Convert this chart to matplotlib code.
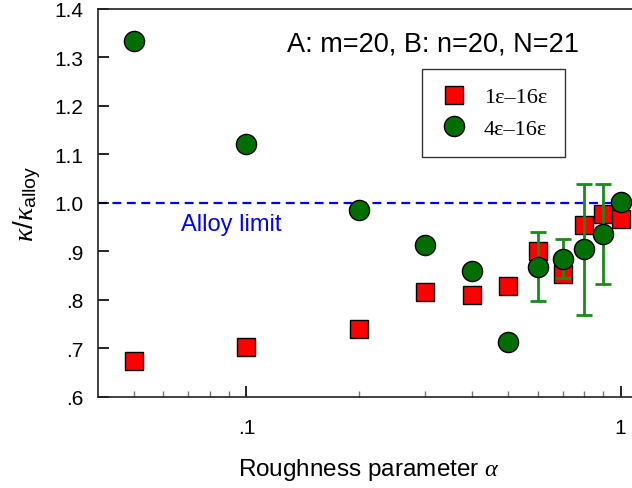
import matplotlib
matplotlib.use("Agg")
import matplotlib.pyplot as plt
from matplotlib.ticker import FixedLocator, FuncFormatter
import numpy as np

plt.rcParams['font.family'] = ['Liberation Sans', 'DejaVu Sans']
plt.rcParams['mathtext.fontset'] = 'custom'
plt.rcParams['mathtext.rm'] = 'Liberation Sans'
plt.rcParams['mathtext.it'] = 'Liberation Serif:italic'

# data
alpha_sq = [0.05, 0.1, 0.2, 0.3, 0.4, 0.5, 0.6, 0.7, 0.8, 0.9, 1.0]
k_sq = [0.674, 0.704, 0.740, 0.816, 0.811, 0.828, 0.902, 0.854, 0.955, 0.977, 0.967]

alpha_c = [0.05, 0.1, 0.2, 0.3, 0.4, 0.5, 0.6, 0.7, 0.8, 0.9, 1.0]
k_c = [1.334, 1.122, 0.986, 0.914, 0.860, 0.713, 0.869, 0.885, 0.905, 0.937, 1.003]
err_c = [0, 0, 0, 0, 0, 0, 0.072, 0.040, 0.135, 0.103, 0]

ytick_vals = [0.6, 0.7, 0.8, 0.9, 1.0, 1.1, 1.2, 1.3, 1.4]
ytick_labels = ['.6', '.7', '.8', '.9', '1.0', '1.1', '1.2', '1.3', '1.4']

fig = plt.figure(figsize=(6.32, 4.89), dpi=100)
ax = fig.add_axes([0.1544, 0.1861, 0.8582, 0.7935])

green = '#006e00'

# alloy limit
ax.plot([0.04, 1.0], [1.0, 1.0], color='#0000ff', ls=(0, (4, 2.5)), lw=1.6, zorder=1)
ax.text(0.246, 0.446, 'Alloy limit', color='#0000ff', fontsize=17,
        transform=ax.transAxes, ha='center', va='center')

ax.plot(alpha_sq, k_sq, 's', color='#ff0000', mec='black', mew=1.0, ms=12.5,
        label='1\u03b5\u201316\u03b5', zorder=3)

# error bars only where there is an error
a_e = [a for a, e in zip(alpha_c, err_c) if e > 0]
k_e = [k for k, e in zip(k_c, err_c) if e > 0]
e_e = [e for e in err_c if e > 0]
ax.errorbar(a_e, k_e, yerr=e_e, fmt='none', ecolor='#1a8a1a', elinewidth=2,
            capsize=6, capthick=2, zorder=4)
ax.plot(alpha_c, k_c, 'o', color=green, mec='black', mew=1.0, ms=14.5,
        label='4\u03b5\u201316\u03b5', zorder=5)

ax.set_xscale('log')
ax.set_xlim(0.04, 1.127)
ax.set_ylim(0.6, 1.4)

ax.xaxis.set_major_locator(FixedLocator([0.1, 1.0]))
ax.xaxis.set_major_formatter(FuncFormatter(lambda v, p: '.1' if v < 0.5 else '1'))
ax.xaxis.set_minor_locator(FixedLocator([0.05, 0.06, 0.07, 0.08, 0.09,
                                         0.2, 0.3, 0.4, 0.5, 0.6, 0.7, 0.8, 0.9]))
ax.xaxis.set_minor_formatter(FuncFormatter(lambda v, p: ''))
ax.set_yticks(ytick_vals)
ax.set_yticklabels(ytick_labels)

ax.tick_params(axis='both', which='major', direction='in', length=8, width=1.2,
               labelsize=15, pad=10)
ax.tick_params(axis='x', which='minor', direction='in', length=4, width=1,
               color='#777777')
ax.tick_params(axis='x', which='major', pad=15)

for s in ax.spines.values():
    s.set_linewidth(1.2)
    s.set_color('#222222')

ax.set_xlabel('Roughness parameter $\\alpha$', fontsize=17.5, labelpad=14)
ax.set_ylabel('$\\kappa/\\kappa_{\\rm alloy}$', fontsize=20, labelpad=8)

ax.text(0.618, 0.91, 'A: m=20, B: n=20, N=21', fontsize=19.5,
        transform=ax.transAxes, ha='center', va='center')

leg = ax.legend(loc='upper left', bbox_to_anchor=(0.5975, 0.845),
                prop={'family': 'Liberation Serif', 'size': 16},
                frameon=True, fancybox=False, edgecolor='black',
                borderpad=0.8, handletextpad=0.7, labelspacing=0.5,
                borderaxespad=0, handlelength=1.3)
leg.get_frame().set_linewidth(1.0)

fig.savefig('out.png', dpi=100)
